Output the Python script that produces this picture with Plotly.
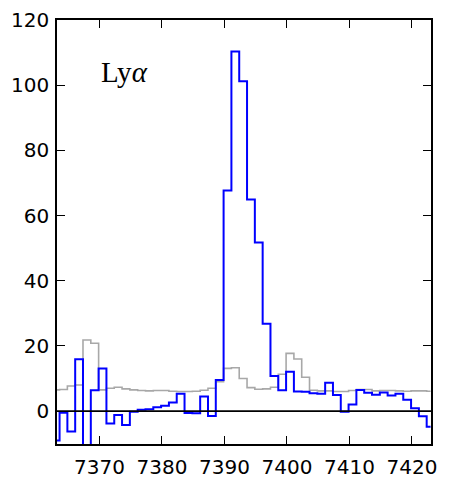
import plotly.graph_objects as go

# Spectral pixel centres (Angstrom), 1.25 A sampling
wave = [
    7362.985, 7364.235, 7365.485, 7366.735, 7367.985, 7369.235, 7370.485,
    7371.735, 7372.985, 7374.235, 7375.485, 7376.735, 7377.985, 7379.235,
    7380.485, 7381.735, 7382.985, 7384.235, 7385.485, 7386.735, 7387.985,
    7389.235, 7390.485, 7391.735, 7392.985, 7394.235, 7395.485, 7396.735,
    7397.985, 7399.235, 7400.485, 7401.735, 7402.985, 7404.235, 7405.485,
    7406.735, 7407.985, 7409.235, 7410.485, 7411.735, 7412.985, 7414.235,
    7415.485, 7416.735, 7417.985, 7419.235, 7420.485, 7421.735, 7422.985,
]

# Line flux
flux = [
    -9.0, -0.5, -6.3, 15.9, -20.0, 6.4, 13.1,
    -3.8, -1.2, -4.3, -0.2, 0.4, 0.6, 1.2,
    1.6, 2.6, 5.3, -0.6, -0.7, 4.5, -1.5,
    9.5, 67.7, 110.3, 101.2, 64.9, 51.7, 26.8,
    10.8, 6.4, 12.1, 6.0, 5.9, 5.5, 5.3,
    8.7, 4.9, -0.2, 2.0, 6.5, 5.6, 5.0,
    5.7, 4.8, 5.3, 3.5, 0.9, -1.6, -4.8,
]

# Noise spectrum
noise = [
    6.5, 6.6, 7.7, 8.0, 21.8, 20.8, 6.5,
    7.0, 7.3, 6.8, 6.5, 6.3, 6.2, 6.3,
    6.3, 6.1, 6.0, 6.0, 6.1, 6.4, 7.0,
    9.0, 13.1, 13.3, 10.0, 7.2, 6.7, 6.8,
    7.3, 11.3, 17.7, 16.0, 10.4, 6.4, 6.2,
    6.2, 6.0, 6.0, 6.3, 6.6, 6.6, 6.2,
    6.3, 6.3, 6.2, 6.1, 6.2, 6.2, 6.1,
]

x_ticks = [7370, 7380, 7390, 7400, 7410, 7420]
y_ticks = [0, 20, 40, 60, 80, 100, 120]

fig = go.Figure()
fig.add_trace(go.Scatter(
    x=wave, y=noise, mode="lines", line_shape="hvh",
    line=dict(color="#a8a8a8", width=1.6), showlegend=False,
))
fig.add_trace(go.Scatter(
    x=wave, y=flux, mode="lines", line_shape="hvh",
    line=dict(color="#0000ff", width=2), showlegend=False,
))

# horizontal zero level
fig.add_shape(type="line", xref="paper", x0=0, x1=1, yref="y", y0=0, y1=0,
              line=dict(color="black", width=1.8), layer="above")

fig.add_annotation(
    text="Ly<i>α</i>", xref="paper", yref="paper", x=0.112, y=0.878,
    xanchor="left", yanchor="middle", showarrow=False,
    font=dict(family="Liberation Serif", size=29, color="black"),
)

axis_common = dict(
    showline=True, linecolor="black", linewidth=1.5, mirror="allticks",
    ticks="inside", ticklen=8, tickwidth=1, tickcolor="black",
    showgrid=False, zeroline=False, automargin=False,
    tickfont=dict(family="DejaVu Sans", size=20, color="black"),
)

fig.update_xaxes(range=[7363.2, 7423.05], tickvals=x_ticks,
                 ticktext=[str(v) for v in x_ticks], ticklabelstandoff=4,
                 **axis_common)
fig.update_yaxes(range=[-10.1, 120], tickvals=y_ticks,
                 ticktext=[str(v) for v in y_ticks], ticklabelstandoff=2,
                 **axis_common)

fig.update_layout(
    width=452, height=483,
    margin=dict(l=57, r=21, t=20, b=39, autoexpand=False),
    paper_bgcolor="white", plot_bgcolor="white",
)

fig.write_html("out.html")
